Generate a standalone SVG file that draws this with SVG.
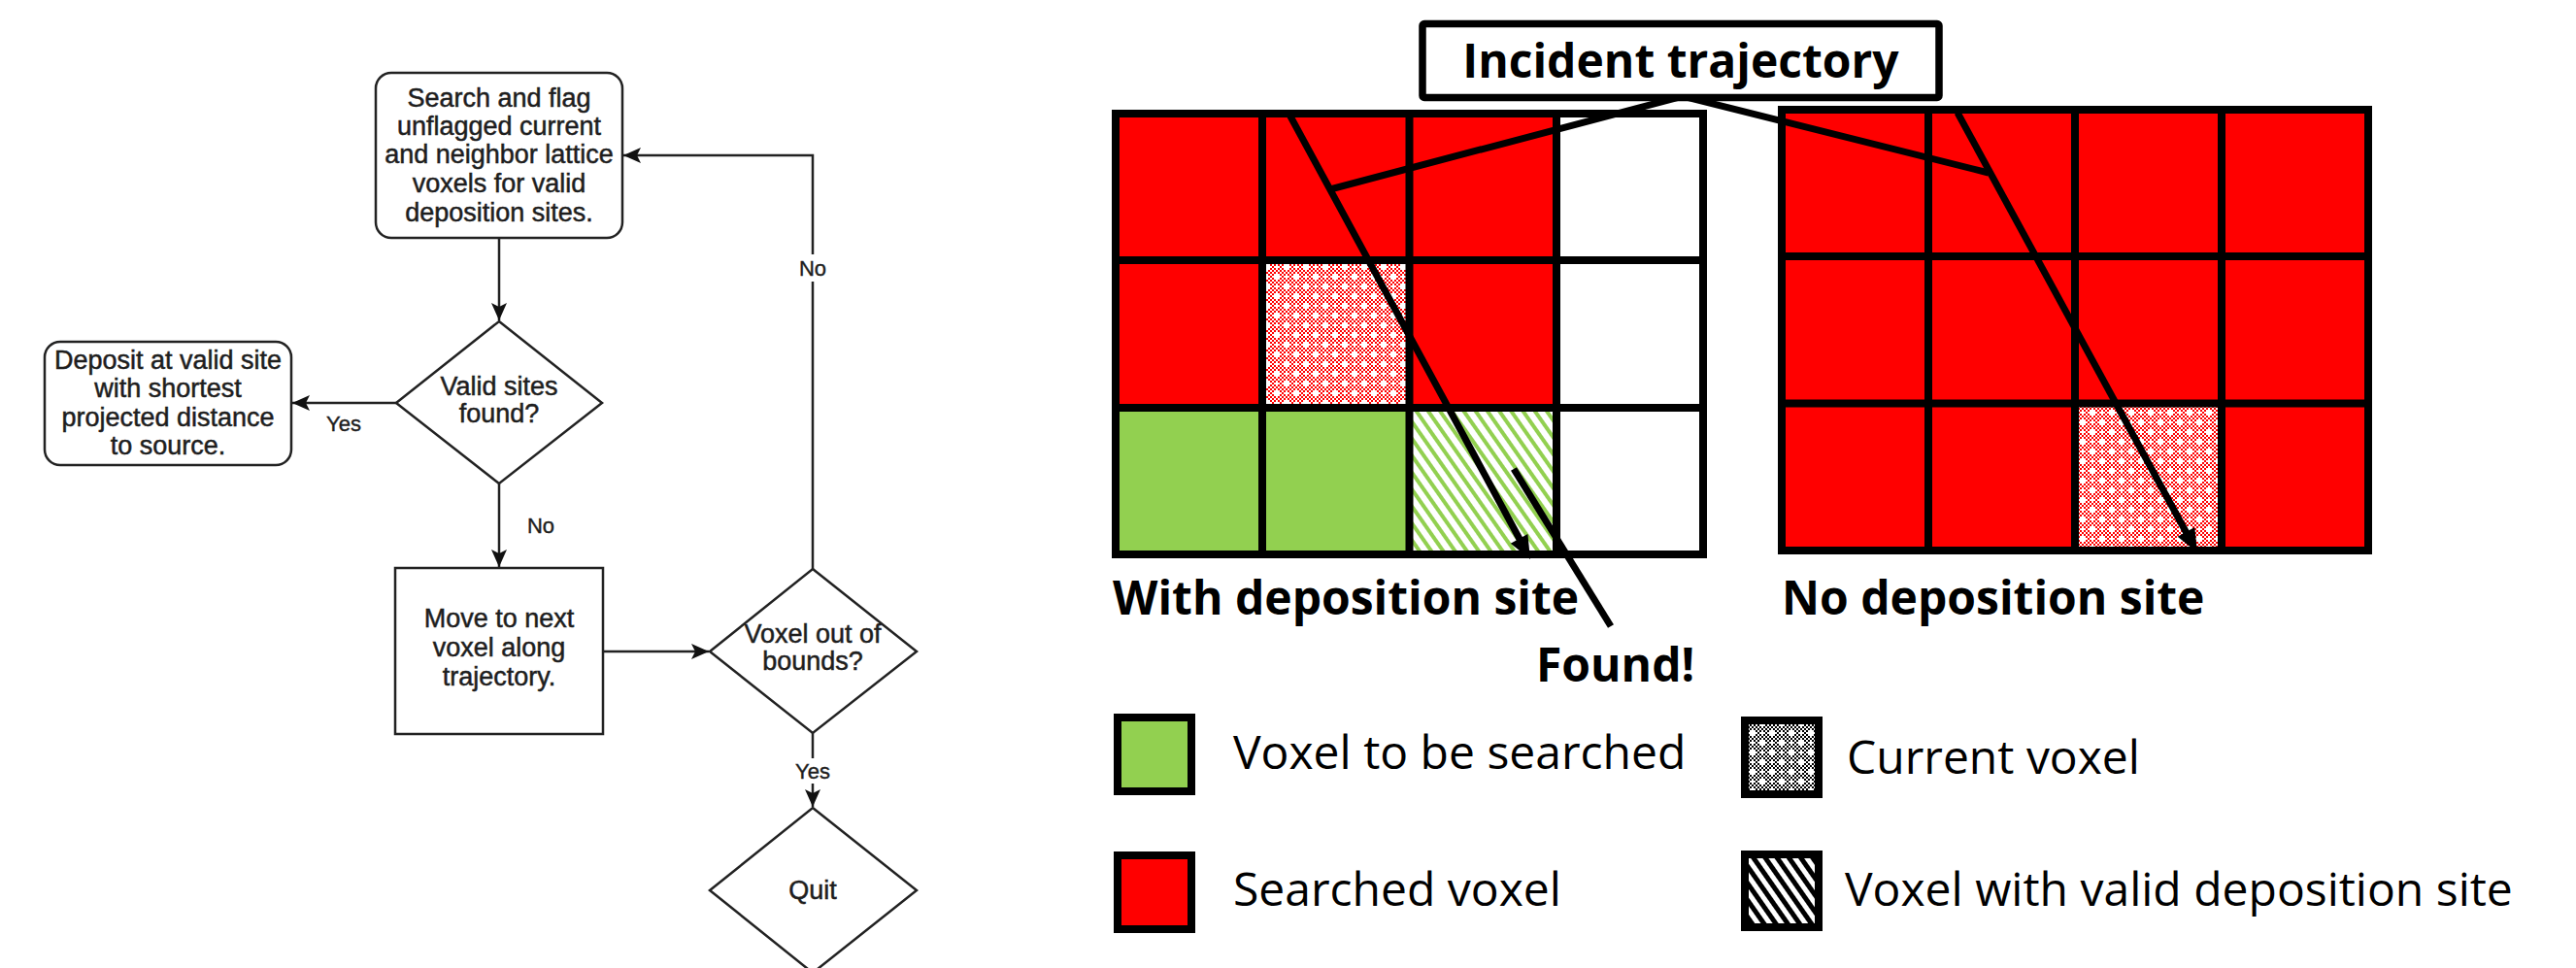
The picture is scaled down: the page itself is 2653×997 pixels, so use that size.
<svg xmlns="http://www.w3.org/2000/svg" width="2653" height="997" viewBox="0 0 2653 997">
  <defs>
    <style>
      .fc { fill: #fff; stroke: #222; stroke-width: 2.5; }
      .fct { font-family: "Liberation Sans", Arial, sans-serif; font-size: 27px; fill: #1e1e1e; stroke: #1e1e1e; stroke-width: 0.5; text-anchor: middle; }
      .lbl { font-family: "Liberation Sans", Arial, sans-serif; font-size: 22px; fill: #1e1e1e; stroke: #1e1e1e; stroke-width: 0.4; text-anchor: middle; }
      .edge { fill: none; stroke: #222; stroke-width: 2.5; marker-end: url(#classic); }
      .grid { fill: none; stroke: #000; stroke-width: 8; stroke-linecap: square; }
      .thick { fill: none; stroke: #000; stroke-width: 7; }
      .bold { font-family: "Open Sans", "Noto Sans", sans-serif; font-size: 48px; font-weight: 700; fill: #000; }
      .leg { font-family: "Open Sans", "Noto Sans", sans-serif; font-size: 48px; fill: #000; }
      .red { fill: #ff0000; }
      .green { fill: #92d050; }
    </style>
    <marker id="classic" markerUnits="userSpaceOnUse" markerWidth="18" markerHeight="16" refX="18" refY="8" orient="auto">
      <path d="M0,0 L18,8 L0,16 L4,8 Z" fill="#111"/>
    </marker>
    <!-- fine checker used under the dotted "current voxel" fill -->
    <pattern id="chkRed" width="4" height="4" patternUnits="userSpaceOnUse">
      <rect width="4" height="4" fill="#fff"/>
      <rect width="2" height="2" fill="#ff0000"/>
      <rect x="2" y="2" width="2" height="2" fill="#ff0000"/>
    </pattern>
    <pattern id="chkBlack" width="4" height="4" patternUnits="userSpaceOnUse">
      <rect width="4" height="4" fill="#fff"/>
      <rect width="2" height="2" fill="#000"/>
      <rect x="2" y="2" width="2" height="2" fill="#000"/>
    </pattern>
    <pattern id="dots" width="10" height="10" patternUnits="userSpaceOnUse">
      <path d="M4,2 h2 v2 h2 v2 h-2 v2 h-2 v-2 h-2 v-2 h2 Z" fill="#fff"/>
    </pattern>
    <!-- diagonal hatch for "valid deposition site" -->
    <pattern id="hatchGreen" width="10" height="10" patternUnits="userSpaceOnUse" patternTransform="rotate(-35)">
      <rect width="10" height="10" fill="#fff"/>
      <rect width="4" height="10" fill="#92d050"/>
    </pattern>
    <pattern id="hatchBlack" width="10" height="10" patternUnits="userSpaceOnUse" patternTransform="rotate(-35)">
      <rect width="10" height="10" fill="#fff"/>
      <rect width="5" height="10" fill="#000"/>
    </pattern>
  </defs>

  <rect width="2653" height="997" fill="#fff"/>

  <!-- ===== Flowchart ===== -->
  <g id="fc-search">
    <rect class="fc" x="387" y="75" width="254" height="170" rx="16"/>
    <text class="fct" x="514" y="110">Search and flag</text>
    <text class="fct" x="514" y="139">unflagged current</text>
    <text class="fct" x="514" y="168">and neighbor lattice</text>
    <text class="fct" x="514" y="198">voxels for valid</text>
    <text class="fct" x="514" y="228">deposition sites.</text>
  </g>

  <g id="fc-valid">
    <path class="fc" d="M514,331 L620,415 L514,498 L408,415 Z"/>
    <text class="fct" x="514" y="407">Valid sites</text>
    <text class="fct" x="514" y="435">found?</text>
  </g>

  <g id="fc-deposit">
    <rect class="fc" x="46" y="352" width="254" height="127" rx="16"/>
    <text class="fct" x="173" y="380">Deposit at valid site</text>
    <text class="fct" x="173" y="409">with shortest</text>
    <text class="fct" x="173" y="439">projected distance</text>
    <text class="fct" x="173" y="468">to source.</text>
  </g>

  <g id="fc-move">
    <rect class="fc" x="407" y="585" width="214" height="171"/>
    <text class="fct" x="514" y="646">Move to next</text>
    <text class="fct" x="514" y="676">voxel along</text>
    <text class="fct" x="514" y="706">trajectory.</text>
  </g>

  <g id="fc-bounds">
    <path class="fc" d="M837,586 L944,671 L837,755 L731,671 Z"/>
    <text class="fct" x="837" y="662">Voxel out of</text>
    <text class="fct" x="837" y="690">bounds?</text>
  </g>

  <g id="fc-quit">
    <path class="fc" d="M837,832 L944,917 L837,1002 L731,917 Z"/>
    <text class="fct" x="837" y="926">Quit</text>
  </g>

  <g id="fc-connectors">
    <path class="edge" d="M514,245 V330"/>
    <path class="edge" d="M408,415 H301"/>
    <path class="edge" d="M514,498 V584"/>
    <path class="edge" d="M621,671 H730"/>
    <path class="edge" d="M837,586 V160 H642"/>
    <path class="edge" d="M837,755 V831"/>
    <text class="lbl" x="354" y="444">Yes</text>
    <text class="lbl" x="557" y="549">No</text>
    <rect x="822" y="262" width="30" height="28" fill="#fff"/>
    <text class="lbl" x="837" y="284">No</text>
    <rect x="815" y="781" width="44" height="26" fill="#fff"/>
    <text class="lbl" x="837" y="802">Yes</text>
  </g>

  <!-- ===== Lattice with a deposition site ===== -->
  <g id="grid-found">
    <rect class="red" x="1149" y="117" width="454" height="303"/>
    <rect class="green" x="1149" y="420" width="303" height="151"/>
    <rect fill="url(#hatchGreen)" x="1451" y="420" width="152" height="151"/>
    <rect fill="#fff" x="1602" y="117" width="152" height="454"/>
    <rect fill="url(#chkRed)" x="1300" y="268" width="152" height="152"/>
    <rect fill="url(#dots)" x="1300" y="268" width="152" height="152"/>
    <path class="grid" d="M1149,117 H1754 V571 H1149 Z M1300,117 V571 M1451.5,117 V571 M1603,117 V571 M1149,268 H1754 M1149,420 H1754"/>
  </g>

  <!-- ===== Lattice without a deposition site ===== -->
  <g id="grid-none">
    <rect class="red" x="1835" y="113" width="604" height="454"/>
    <rect fill="url(#chkRed)" x="2137" y="415.5" width="151" height="151.5"/>
    <rect fill="url(#dots)" x="2137" y="415.5" width="151" height="151.5"/>
    <path class="grid" d="M1835,113 H2439 V567 H1835 Z M1986,113 V567 M2137,113 V567 M2288,113 V567 M1835,264 H2439 M1835,415.5 H2439"/>
  </g>

  <!-- trajectories, callout and "Found!" pointer -->
  <g id="trajectories">
    <path class="thick" d="M1328,118 L1566,557"/>
    <polygon points="1576,576 1573.4,550.1 1555.8,559.7" fill="#000"/>
    <path class="thick" d="M2016,116 L2253,551"/>
    <polygon points="2263,569 2260.3,543.1 2242.7,552.7" fill="#000"/>
    <path class="thick" d="M1559,483 L1659,645"/>
  </g>

  <g id="callout">
    <path class="thick" d="M1370,195 L1733,99 L2048,178" stroke-linejoin="miter"/>
    <rect x="1465" y="24.5" width="532" height="76" rx="2" fill="#fff" stroke="#000" stroke-width="7.5"/>
    <text class="bold" x="1731" y="80" text-anchor="middle">Incident trajectory</text>
  </g>

  <g id="captions">
    <text class="bold" x="1146" y="633">With deposition site</text>
    <text class="bold" x="1835" y="633">No deposition site</text>
    <text class="bold" x="1582" y="702">Found!</text>
  </g>

  <!-- ===== Legend ===== -->
  <g id="legend">
    <rect class="green" x="1151" y="739" width="76" height="76" stroke="#000" stroke-width="8"/>
    <text class="leg" x="1270" y="792">Voxel to be searched</text>
    <rect class="red" x="1151" y="881" width="76" height="76" stroke="#000" stroke-width="8"/>
    <text class="leg" x="1270" y="933">Searched voxel</text>
    <rect fill="url(#chkBlack)" x="1797" y="742" width="76" height="76"/>
    <rect fill="url(#dots)" x="1797" y="742" width="76" height="76" stroke="#000" stroke-width="8"/>
    <text class="leg" x="1902" y="797">Current voxel</text>
    <rect fill="url(#hatchBlack)" x="1797" y="880" width="76" height="75" stroke="#000" stroke-width="8"/>
    <text class="leg" x="1900" y="933">Voxel with valid deposition site</text>
  </g>
</svg>
